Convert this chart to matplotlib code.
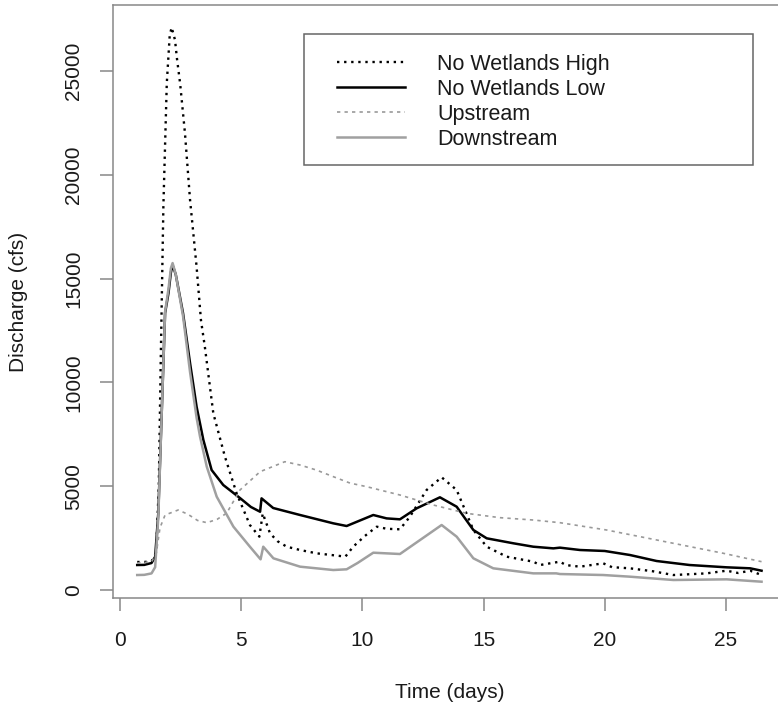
import matplotlib
matplotlib.use('Agg')
import matplotlib.pyplot as plt
from matplotlib.patches import Rectangle

plt.rcParams['font.family'] = ['Liberation Sans', 'DejaVu Sans']

# 读图估计的数据（时间单位：天，流量单位：cfs）
high_days = [0.71, 1.0, 1.3, 1.45, 1.5, 1.6, 1.68, 1.79, 1.93, 2.05, 2.13, 2.2, 2.27, 2.35,
             2.48, 2.68, 2.89, 3.16, 3.34, 3.5, 3.85, 4.33, 4.81, 5.36, 5.75, 5.89, 6.19,
             6.5, 6.88, 7.43, 8.11, 9.08, 9.3, 9.62, 10.1, 10.59, 11.0, 11.55, 11.96, 12.65,
             13.27, 13.89, 14.58, 15.13, 15.95, 17.05, 17.33, 18.15, 18.4, 18.98, 19.94,
             20.3, 21.04, 22.0, 22.83, 23.5, 24.2, 25.03, 25.5, 26.0, 26.47]
high_q = [1350, 1350, 1380, 1700, 2000, 5000, 11000, 18500, 24400, 26700, 27100, 26800,
          26490, 25600, 24400, 22010, 18790, 15570, 13000, 11720, 8510, 6420, 4660, 3130,
          2570, 3690, 2730, 2350, 2086, 1927, 1767, 1638, 1610, 2086, 2600, 3050, 2950,
          2924, 3531, 4817, 5430, 4817, 2890, 2086, 1606, 1365, 1204, 1365, 1200, 1124,
          1285, 1100, 1045, 900, 722, 760, 802, 930, 820, 930, 722]

low_days = [0.71, 1.0, 1.3, 1.45, 1.58, 1.72, 1.86, 2.0, 2.1, 2.17, 2.3, 2.6, 2.89, 3.16,
            3.44, 3.78, 4.26, 4.95, 5.4, 5.78, 5.84, 6.32, 7.43, 8.8, 9.35, 9.8, 10.45,
            11.0, 11.55, 12.24, 13.2, 13.89, 14.58, 15.13, 16.23, 17.05, 17.88, 18.15,
            18.98, 20.0, 21.04, 22.14, 23.5, 25.03, 26.0, 26.47]
low_q = [1204, 1210, 1300, 1600, 3700, 8500, 13340, 14300, 15300, 15650, 15200, 13340,
         10930, 8830, 7225, 5780, 5058, 4430, 4000, 3770, 4415, 3950, 3613, 3212, 3083,
         3300, 3613, 3450, 3405, 3935, 4465, 4013, 2890, 2490, 2250, 2086, 2006, 2040,
         1927, 1880, 1686, 1397, 1204, 1093, 1045, 930]

up_days = [0.71, 1.3, 1.5, 1.65, 1.86, 2.4, 2.8, 3.2, 3.58, 4.0, 4.4, 4.95, 5.78, 6.8,
           7.43, 8.1, 8.8, 9.49, 10.18, 11.55, 12.93, 14.3, 15.68, 17.05, 18.15, 20.08,
           22.83, 24.9, 26.47]
up_q = [1300, 1350, 1800, 3000, 3613, 3854, 3650, 3350, 3243, 3400, 3700, 4817, 5700,
        6180, 6020, 5780, 5460, 5150, 4977, 4576, 4094, 3693, 3484, 3372, 3243, 2890,
        2250, 1767, 1365]

down_days = [0.71, 1.0, 1.3, 1.45, 1.58, 1.72, 1.86, 2.0, 2.1, 2.17, 2.3, 2.6, 2.89, 3.16,
             3.3, 3.58, 3.99, 4.68, 5.36, 5.8, 5.91, 6.33, 7.43, 8.8, 9.35, 9.8, 10.45,
             11.55, 12.38, 13.27, 13.89, 14.58, 15.4, 17.05, 18.0, 18.15, 19.94, 21.04,
             22.83, 25.03, 26.47]
down_q = [722, 730, 800, 1100, 3500, 8500, 13400, 14500, 15500, 15750, 15200, 13200,
          10500, 8300, 7400, 5940, 4495, 3050, 2086, 1478, 2086, 1527, 1124, 963, 997,
          1300, 1797, 1734, 2408, 3131, 2570, 1527, 1045, 802, 802, 770, 722, 642, 482,
          514, 400]

labels = ['No Wetlands High', 'No Wetlands Low', 'Upstream', 'Downstream']

fig = plt.figure(figsize=(7.78, 7.15), dpi=100)
# 原图右侧被裁掉，所以坐标区超出画布
ax = fig.add_axes([113 / 778, 117 / 715, 674 / 778, 593 / 715])

ax.plot(high_days, high_q, color='black', lw=1.7, ls=(0, (1, 2)), label=labels[0])
ax.plot(low_days, low_q, color='black', lw=1.8, label=labels[1])
ax.plot(up_days, up_q, color='#999999', lw=1.2, ls=(0, (2, 2.5)), label=labels[2])
ax.plot(down_days, down_q, color='#a0a0a0', lw=1.8, label=labels[3])

ax.set_xlim(-0.289, 27.52)
ax.set_ylim(-385, 28180)
ax.set_xticks([0, 5, 10, 15, 20, 25])
ax.set_yticks([0, 5000, 10000, 15000, 20000, 25000])
ax.tick_params(direction='out', length=9.5, width=1.1, color='#888888',
               labelsize=15, labelcolor='#1a1a1a')
ax.tick_params(axis='x', pad=14)
ax.tick_params(axis='y', pad=12)
for lbl in ax.get_yticklabels():
    lbl.set_rotation(90)
    lbl.set_va('center')
for sp in ax.spines.values():
    sp.set_color('#888888')
    sp.set_linewidth(1.1)

ax.set_xlabel('Time (days)', fontsize=15, color='#1a1a1a', va='center')
ax.xaxis.set_label_coords(0.5, -0.160)
ax.set_ylabel('Discharge (cfs)', fontsize=15, color='#1a1a1a', va='center')
ax.yaxis.set_label_coords(-0.1395, 0.5)

# 图例：无边框图例 + 手动画外框
ax.legend(frameon=False, loc='upper left', bbox_to_anchor=(0.3323, 0.918),
          borderaxespad=0, borderpad=0, handlelength=3.16, handletextpad=1.49,
          labelspacing=0.19, fontsize=15.5, labelcolor='#1a1a1a')
ax.add_patch(Rectangle((0.2834, 0.730), 0.6662, 0.221, transform=ax.transAxes,
                       fill=False, ec='#666666', lw=1.1))

fig.savefig('out.png', dpi=100)
